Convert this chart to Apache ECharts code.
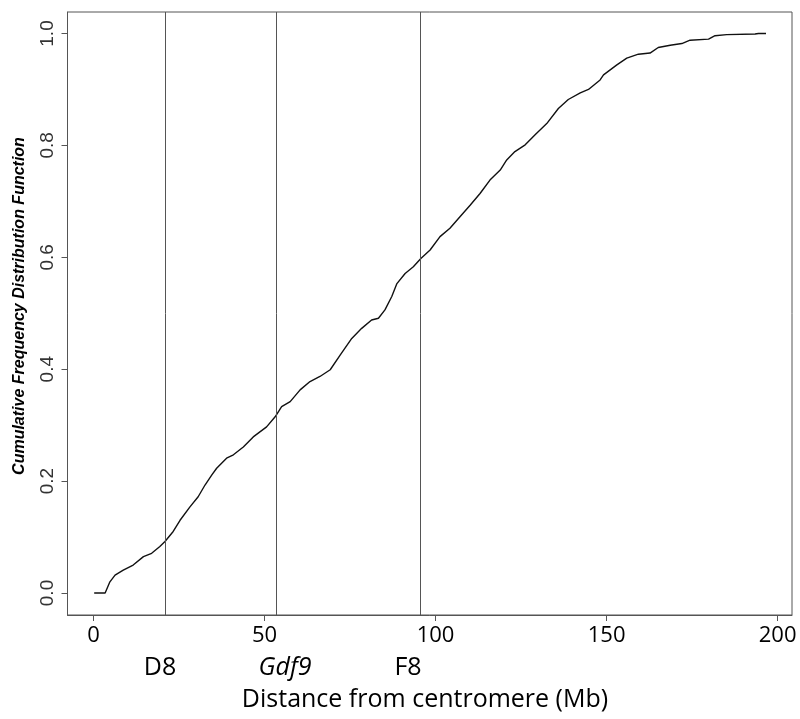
<!DOCTYPE html>
<html>
<head>
<meta charset="utf-8">
<script src="https://cdn.jsdelivr.net/npm/echarts@6/dist/echarts.min.js"></script>
<style>
    html, body { margin: 0; padding: 0; background: #fff; }
    #chart { width: 800px; height: 719px; }
</style>
</head>
<body>
<div id="chart"></div>
<script>
// distance from centromere (Mb) and cumulative frequency
const distance = [0.2, 3.4, 4.8, 6.3, 8.7, 11.6, 14.6, 17.0, 19.4, 20.9, 23.3, 25.3, 28.2, 30.6, 32.6, 34.6, 36.0, 38.9, 40.9, 43.8, 46.7, 50.6, 53.1, 55.0, 57.5, 60.4, 63.3, 66.2, 69.2, 72.1, 75.5, 78.4, 81.3, 83.3, 85.2, 87.2, 88.7, 91.1, 93.5, 95.7, 98.4, 101.3, 104.2, 107.2, 110.1, 113.0, 115.9, 118.9, 120.8, 123.2, 126.2, 129.1, 132.5, 135.9, 138.8, 142.3, 144.7, 148.1, 149.1, 153.0, 155.9, 159.3, 162.7, 165.1, 168.6, 172.0, 174.4, 179.8, 181.7, 185.1, 193.4, 194.4, 196.6]
const cdf = [0.0, 0.0, 0.020, 0.032, 0.041, 0.050, 0.065, 0.071, 0.083, 0.092, 0.110, 0.130, 0.154, 0.172, 0.193, 0.211, 0.223, 0.241, 0.247, 0.261, 0.279, 0.297, 0.315, 0.333, 0.342, 0.363, 0.378, 0.387, 0.399, 0.425, 0.455, 0.473, 0.488, 0.491, 0.506, 0.530, 0.553, 0.571, 0.583, 0.598, 0.613, 0.637, 0.652, 0.673, 0.693, 0.714, 0.738, 0.756, 0.774, 0.789, 0.801, 0.819, 0.839, 0.866, 0.882, 0.894, 0.900, 0.917, 0.926, 0.944, 0.956, 0.963, 0.965, 0.975, 0.979, 0.982, 0.988, 0.990, 0.996, 0.998, 0.999, 1.0, 1.0]

// marker positions (vertical lines)
const markerNames = ['D8', 'Gdf9', 'F8']
const markerPos = [20.9, 53.4, 95.6]

const xTicks = [0, 50, 100, 150, 200]
const yTicks = [0, 0.2, 0.4, 0.6, 0.8, 1.0]

const chart = echarts.init(document.getElementById('chart'))

const option = {
    animation: false,
    grid: {
        left: 67.5, right: 8, top: 12, bottom: 104,
        show: true, borderColor: '#555', borderWidth: 1
    },
    xAxis: {
        type: 'value',
        min: -7.6, max: 204.2,
        splitLine: { show: false },
        axisLine: { onZero: false, lineStyle: { color: '#555' } },
        axisTick: { customValues: xTicks, length: 6, lineStyle: { color: '#555' } },
        axisLabel: {
            customValues: xTicks, margin: 10,
            fontFamily: 'Open Sans', fontSize: 22, color: '#000'
        }
    },
    yAxis: {
        type: 'value',
        min: -0.0393, max: 1.0384,
        splitLine: { show: false },
        axisLine: { onZero: false, lineStyle: { color: '#555' } },
        axisTick: { customValues: yTicks, length: 6, lineStyle: { color: '#555' } },
        axisLabel: {
            customValues: yTicks, rotate: 90, margin: 10,
            formatter: v => v.toFixed(1),
            fontFamily: 'Liberation Sans', fontSize: 19, color: '#333'
        }
    },
    series: [{
        type: 'line',
        data: distance.map((d, i) => [d, cdf[i]]),
        showSymbol: false,
        lineStyle: { color: '#111', width: 1.4 },
        markLine: {
            silent: true,
            symbol: 'none',
            label: { show: false },
            lineStyle: { color: '#555', width: 1, type: 'solid' },
            data: markerPos.map(p => ({ xAxis: p }))
        }
    }],
    graphic: [
        { type: 'text', x: 160, y: 668, style: { text: markerNames[0], font: '25px "Open Sans"', fill: '#000', align: 'center', verticalAlign: 'middle' } },
        { type: 'text', x: 285, y: 668, style: { text: markerNames[1], font: 'italic 25px "Open Sans"', fill: '#000', align: 'center', verticalAlign: 'middle' } },
        { type: 'text', x: 408, y: 668, style: { text: markerNames[2], font: '25px "Open Sans"', fill: '#000', align: 'center', verticalAlign: 'middle' } },
        { type: 'text', x: 425, y: 700, style: { text: 'Distance from centromere (Mb)', font: '25px "Open Sans"', fill: '#000', align: 'center', verticalAlign: 'middle' } },
        { type: 'text', x: 20, y: 306, rotation: Math.PI / 2, style: { text: 'Cumulative Frequency Distribution Function', font: 'italic bold 16px "Liberation Sans"', fill: '#000', align: 'center', verticalAlign: 'middle' } }
    ]
}
chart.setOption(option)
</script>
</body>
</html>
